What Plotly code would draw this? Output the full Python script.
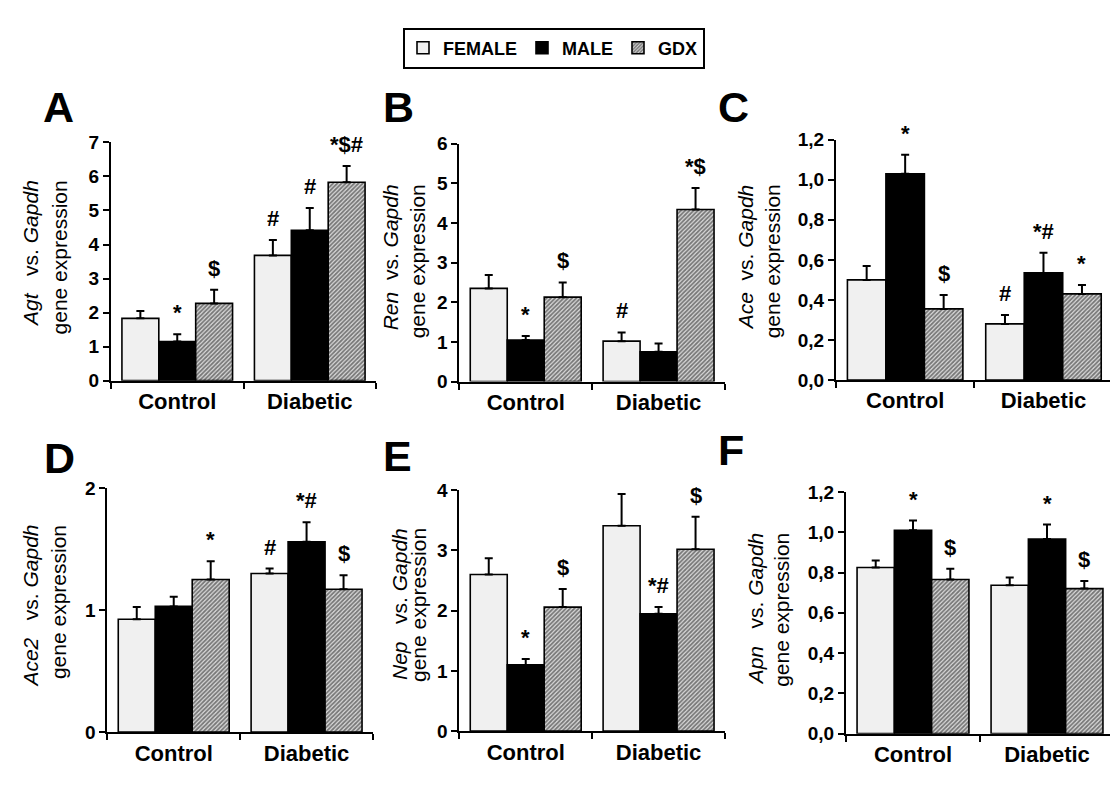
import plotly.graph_objects as go

W, H = 1110, 795
FONT = "Liberation Sans, Arial, sans-serif"

categories = ["Control", "Diabetic"]
group_names = ["FEMALE", "MALE", "GDX"]

# ---- Panel A: Agt ----
agt_female = [1.83, 3.68]
agt_female_sem = [0.22, 0.45]
agt_male = [1.15, 4.42]
agt_male_sem = [0.21, 0.65]
agt_gdx = [2.27, 5.83]
agt_gdx_sem = [0.40, 0.48]
agt_sig = [["", "*", "$"], ["#", "#", "*$#"]]

# ---- Panel B: Ren ----
ren_female = [2.35, 1.02]
ren_female_sem = [0.34, 0.22]
ren_male = [1.05, 0.75]
ren_male_sem = [0.10, 0.21]
ren_gdx = [2.13, 4.34]
ren_gdx_sem = [0.37, 0.54]
ren_sig = [["", "*", "$"], ["#", "", "*$"]]

# ---- Panel C: Ace ----
ace_female = [0.50, 0.28]
ace_female_sem = [0.07, 0.045]
ace_male = [1.03, 0.535]
ace_male_sem = [0.095, 0.10]
ace_gdx = [0.355, 0.43]
ace_gdx_sem = [0.07, 0.045]
ace_sig = [["", "*", "$"], ["#", "*#", "*"]]

# ---- Panel D: Ace2 ----
ace2_female = [0.925, 1.30]
ace2_female_sem = [0.10, 0.04]
ace2_male = [1.03, 1.56]
ace2_male_sem = [0.08, 0.16]
ace2_gdx = [1.25, 1.17]
ace2_gdx_sem = [0.15, 0.115]
ace2_sig = [["", "", "*"], ["#", "*#", "$"]]

# ---- Panel E: Nep ----
nep_female = [2.60, 3.41]
nep_female_sem = [0.27, 0.53]
nep_male = [1.10, 1.95]
nep_male_sem = [0.10, 0.11]
nep_gdx = [2.06, 3.02]
nep_gdx_sem = [0.30, 0.54]
nep_sig = [["", "*", "$"], ["", "*#", "$"]]

# ---- Panel F: Apn ----
apn_female = [0.825, 0.737]
apn_female_sem = [0.035, 0.038]
apn_male = [1.01, 0.966]
apn_male_sem = [0.048, 0.072]
apn_gdx = [0.765, 0.72]
apn_gdx_sem = [0.053, 0.038]
apn_sig = [["", "*", "$"], ["", "*", "$"]]

# tick labels
int_ticks_7 = [0, 1, 2, 3, 4, 5, 6, 7]
int_ticks_6 = [0, 1, 2, 3, 4, 5, 6]
int_ticks_4 = [0, 1, 2, 3, 4]
int_ticks_2 = [0, 1, 2]
dec_ticks = [0.0, 0.2, 0.4, 0.6, 0.8, 1.0, 1.2]
dec_ticktext = ["0,0", "0,2", "0,4", "0,6", "0,8", "1,0", "1,2"]

gene_labels = ["Agt", "Ren", "Ace", "Ace2", "Nep", "Apn"]
panel_letters = ["A", "B", "C", "D", "E", "F"]


def fx(px):
    return px / W


def fy(py):
    return 1 - py / H


panels = [
    dict(letter="A", gene="Agt", sep="&nbsp;&nbsp;",
         data=[(agt_female, agt_female_sem), (agt_male, agt_male_sem), (agt_gdx, agt_gdx_sem)],
         sig=agt_sig, ticks=int_ticks_7, ticktext=[str(t) for t in int_ticks_7], yr=[0, 7],
         xd=(111, 376), yd=(136, 380.7), xr=[-0.5, 1.5],
         letter_pos=(41, 100), t1=31, t2=59, ttop=173),
    dict(letter="B", gene="Ren", sep="&nbsp;",
         data=[(ren_female, ren_female_sem), (ren_male, ren_male_sem), (ren_gdx, ren_gdx_sem)],
         sig=ren_sig, ticks=int_ticks_6, ticktext=[str(t) for t in int_ticks_6], yr=[0, 6],
         xd=(459.3, 725), yd=(137.3, 381.7), xr=[-0.5, 1.5],
         letter_pos=(381, 100), t1=390, t2=417, ttop=177),
    dict(letter="C", gene="Ace", sep="&nbsp;",
         data=[(ace_female, ace_female_sem), (ace_male, ace_male_sem), (ace_gdx, ace_gdx_sem)],
         sig=ace_sig, ticks=dec_ticks, ticktext=dec_ticktext, yr=[0, 1.2],
         xd=(836, 1110), yd=(133.3, 380), xr=[-0.5, 1.481],
         letter_pos=(716, 100), t1=745, t2=772, ttop=177),
    dict(letter="D", gene="Ace2", sep="&nbsp;&nbsp;",
         data=[(ace2_female, ace2_female_sem), (ace2_male, ace2_male_sem), (ace2_gdx, ace2_gdx_sem)],
         sig=ace2_sig, ticks=int_ticks_2, ticktext=[str(t) for t in int_ticks_2], yr=[0, 2],
         xd=(107.3, 373), yd=(491, 741.7), xr=[-0.5, 1.5],
         letter_pos=(42, 460), t1=31, t2=58, ttop=527),
    dict(letter="E", gene="Nep", sep="&nbsp;&nbsp;",
         data=[(nep_female, nep_female_sem), (nep_male, nep_male_sem), (nep_gdx, nep_gdx_sem)],
         sig=nep_sig, ticks=int_ticks_4, ticktext=[str(t) for t in int_ticks_4], yr=[0, 4],
         xd=(459.3, 725), yd=(493.3, 740.7), xr=[-0.5, 1.5],
         letter_pos=(381, 458), t1=399, t2=418, ttop=530),
    dict(letter="F", gene="Apn", sep="&nbsp;&nbsp;",
         data=[(apn_female, apn_female_sem), (apn_male, apn_male_sem), (apn_gdx, apn_gdx_sem)],
         sig=apn_sig, ticks=dec_ticks, ticktext=dec_ticktext, yr=[0, 1.2],
         xd=(846, 1110), yd=(495, 743.3), xr=[-0.5, 1.47],
         letter_pos=(716, 452), t1=755, t2=782, ttop=535),
]

BARGAP = 0.165
bar_w = (1 - BARGAP) / 3

styles = [
    dict(color="#f0f0f0", line=dict(color="black", width=1.6)),
    dict(color="black", line=dict(color="black", width=1.6)),
    dict(color="#bdbdbd", line=dict(color="black", width=1.6),
         pattern=dict(shape="/", fgcolor="#111111", bgcolor="#dddddd", size=3, solidity=0.6)),
]

fig = go.Figure()
annotations = []
layout_axes = {}

for k, p in enumerate(panels):
    sfx = "" if k == 0 else str(k + 1)
    xname, yname = "x" + sfx, "y" + sfx
    for g, (vals, sems) in enumerate(p["data"]):
        fig.add_trace(go.Bar(
            x=categories, y=vals, name=group_names[g],
            xaxis=xname, yaxis=yname,
            marker=styles[g],
            error_y=dict(type="data", array=sems, arrayminus=[0] * len(sems), symmetric=False,
                         color="black", thickness=2, width=4),
            showlegend=(k == 0), legendgroup=group_names[g], offsetgroup=str(g),
            hoverinfo="skip",
        ))
        for c in range(len(categories)):
            txt = p["sig"][c][g]
            if txt:
                annotations.append(dict(
                    x=c + (g - 1) * bar_w, y=vals[c] + sems[c], xref=xname, yref=yname,
                    text="<b>" + txt + "</b>", showarrow=False, yanchor="bottom", yshift=7,
                    font=dict(family=FONT, size=22, color="black")))
    layout_axes["xaxis" + sfx] = dict(
        domain=[fx(p["xd"][0]), fx(p["xd"][1])], anchor=yname, type="category",
        categoryorder="array", categoryarray=categories, range=p["xr"],
        showline=True, linecolor="black", linewidth=2, ticks="outside", tickson="boundaries",
        ticklen=6, tickwidth=2, tickcolor="black", showgrid=False, zeroline=False,
        tickfont=dict(family=FONT, size=22, color="black", weight="bold"), fixedrange=True)
    layout_axes["yaxis" + sfx] = dict(
        domain=[fy(p["yd"][1]), fy(p["yd"][0])], anchor=xname, range=p["yr"],
        tickvals=p["ticks"], ticktext=p["ticktext"],
        showline=True, linecolor="black", linewidth=2, ticks="outside",
        ticklen=6, tickwidth=2, tickcolor="black", showgrid=False, zeroline=False,
        tickfont=dict(family=FONT, size=19, color="black", weight="bold"), fixedrange=True)
    # panel letter
    annotations.append(dict(
        x=fx(p["letter_pos"][0]), y=fy(p["letter_pos"][1]), xref="paper", yref="paper",
        text="<b>" + p["letter"] + "</b>", showarrow=False, xanchor="left", yanchor="middle",
        font=dict(family=FONT, size=43, color="black")))
    # y-axis titles (two lines)
    annotations.append(dict(
        x=fx(p["t1"]), y=fy(p["ttop"]), xref="paper", yref="paper", textangle=-90,
        text="<i>" + p["gene"] + "</i>" + p["sep"] + " vs. <i>Gapdh</i>", showarrow=False,
        xanchor="center", yanchor="top", font=dict(family=FONT, size=21, color="black")))
    annotations.append(dict(
        x=fx(p["t2"]), y=fy(p["ttop"]), xref="paper", yref="paper", textangle=-90,
        text="gene expression", showarrow=False,
        xanchor="center", yanchor="top", font=dict(family=FONT, size=21, color="black")))

fig.update_layout(
    width=W, height=H, margin=dict(l=0, r=0, t=0, b=0),
    paper_bgcolor="white", plot_bgcolor="white",
    barmode="group", bargap=BARGAP, bargroupgap=0,
    annotations=annotations,
    legend=dict(orientation="h", x=fx(554), y=fy(18), xanchor="center", yanchor="top",
                bordercolor="black", borderwidth=2, bgcolor="white",
                font=dict(family=FONT, size=18, color="black", weight="bold"),
                itemclick=False, itemdoubleclick=False, itemwidth=30),
    showlegend=True,
    **layout_axes,
)

fig.write_html("out.html")
